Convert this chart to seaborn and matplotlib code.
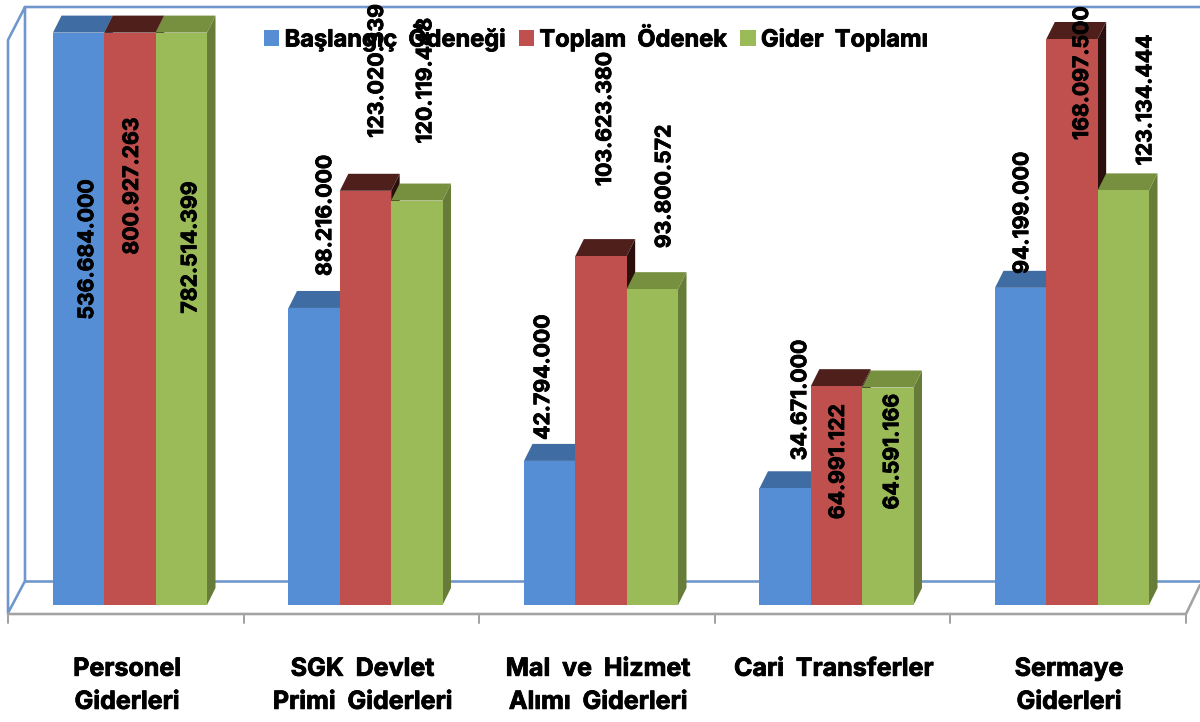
import pandas as pd
import matplotlib
matplotlib.use("Agg")
import matplotlib.pyplot as plt
import matplotlib.patheffects as pe
import seaborn as sns
from matplotlib.lines import Line2D
from matplotlib.patches import Polygon
from matplotlib.transforms import IdentityTransform, ScaledTranslation

# ==================================
# DATA
# ==================================
categories = ["Personel\nGiderleri", "SGK  Devlet\nPrimi  Giderleri", "Mal  ve  Hizmet\nAlımı  Giderleri",
              "Cari  Transferler", "Sermaye\nGiderleri"]
series_names = ["Başlangıç  Ödeneği", "Toplam  Ödenek", "Gider  Toplamı"]

baslangic = [536684000, 88216000, 42794000, 34671000, 94199000]
toplam = [800927263, 123020339, 103623380, 64991122, 168097500]
gider = [782514399, 120119448, 93800572, 64591166, 123134444]

# hand placed labels: px from top centre of the bar to the label's foot
label_dx = [[8.5, 2, 9], [11, 11.5, 8.5], [-6.5, 4, 12], [15, 1.5, 4.5], [1.5, 10, 22]]
label_dy = [[-287, -222, -281], [32, 53, 57], [21, 70, 41], [28, -133, -122], [14, -101, 25]]

# ==================================
# STYLE
# ==================================
W, H = 1200, 722
Y_MAX = 170e6
front_colors = ["#558ED5", "#C0504D", "#9BBB59"]
top_colors = ["#3F6CA2", "#4F1F1C", "#77903F"]
side_colors = ["#3A6090", "#2A0F0D", "#667C38"]
DEPTH_X, DEPTH_Y = 8.5, 17
WALL = "#6F97CB"
FLOOR = "#A3A3A3"
HEAVY = [pe.withStroke(linewidth=0.6, foreground="black")]

sns.set_theme(style="white")
plt.rcParams["font.family"] = ["Inter", "DejaVu Sans"]
plt.rcParams["font.weight"] = "bold"

df = pd.DataFrame({
    "kategori": categories * 3,
    "seri": [s for s in series_names for _ in categories],
    "deger": baslangic + toplam + gider,
})

fig = plt.figure(figsize=(W / 100, H / 100), dpi=100)
ax = fig.add_axes([12.25 / W, (H - 605) / H, 1177.5 / W, 572.4 / H])
ax.patch.set_visible(False)


def frame_line(xs, ys, color, lw=2.0):
    fig.add_artist(Line2D([x / W for x in xs], [1 - y / H for y in ys], color=color, lw=lw * 0.72,
                          transform=fig.transFigure, zorder=-1, solid_capstyle="round"))


# ==================================
# BACK WALL AND FLOOR
# ==================================
frame_line([1200, 25, 8, 8, 25, 25], [7, 7, 40, 613, 581, 7], WALL, 2.6)
frame_line([25, 1200], [581, 581], WALL, 2.6)
frame_line([8, 1186, 1200], [614, 614, 585], FLOOR, 2.6)
for i in range(len(categories) + 1):
    tick_x = 8 + 235.6 * i
    frame_line([tick_x, tick_x], [614, 623], FLOOR, 2.0)

# ==================================
# BARS
# ==================================
sns.barplot(data=df, x="kategori", y="deger", hue="seri", hue_order=series_names,
            palette=front_colors, width=0.654, gap=0, saturation=1, linewidth=0, ax=ax)
ax.set_xlim(-0.5, len(categories) - 0.5)
ax.set_ylim(0, Y_MAX)

# side and top faces, worked out from the bars seaborn drew
for s, container in enumerate(ax.containers):
    for c, bar in enumerate(container):
        bar.set_zorder(4)
        x0 = bar.get_x()
        x1 = x0 + bar.get_width()
        h = min(bar.get_height(), Y_MAX)
        (px0, py0), (px1, py1) = ax.transData.transform([(x0, 0), (x1, h)])
        ax.add_patch(Polygon([(px1, py0), (px1 + DEPTH_X, py0 + DEPTH_Y), (px1 + DEPTH_X, py1 + DEPTH_Y), (px1, py1)],
                             fc=side_colors[s], lw=0, transform=IdentityTransform(), clip_on=False, zorder=2))
        ax.add_patch(Polygon([(px0, py1), (px1, py1), (px1 + DEPTH_X, py1 + DEPTH_Y), (px0 + DEPTH_X, py1 + DEPTH_Y)],
                             fc=top_colors[s], lw=0, transform=IdentityTransform(), clip_on=False, zorder=3))
        ax.annotate(f"{int(bar.get_height()):,}".replace(",", "."),
                    xy=(x0 + bar.get_width() / 2, h), xycoords="data",
                    xytext=(label_dx[c][s] * 0.72, label_dy[c][s] * 0.72), textcoords="offset points",
                    rotation=90, ha="center", va="bottom", fontsize=15.3, fontweight="bold",
                    color="black", annotation_clip=False, zorder=6, path_effects=HEAVY)

# ==================================
# AXES AND LEGEND
# ==================================
sns.despine(ax=ax, left=True, bottom=True)
ax.set_xlabel("")
ax.set_ylabel("")
ax.set_yticks([])
ax.tick_params(axis="x", length=0, pad=38)
ax.set_xticks(range(len(categories)))
ax.set_xticklabels(categories, fontsize=18, fontweight="bold", color="black", linespacing=1.56,
                   path_effects=HEAVY)
shift = ScaledTranslation(-3 / 100, 0, fig.dpi_scale_trans)
for lab in ax.get_xticklabels():
    lab.set_transform(lab.get_transform() + shift)

leg = ax.legend(loc="center", bbox_to_anchor=(596 / W, 1 - 38 / H), bbox_transform=fig.transFigure,
                ncol=3, frameon=False, fontsize=17, handlelength=0.66, handleheight=0.66,
                handletextpad=0.22, columnspacing=0.55, borderpad=0)
leg.set_zorder(5)
for text in leg.get_texts():
    text.set_fontweight("bold")
    text.set_color("black")
    text.set_path_effects(HEAVY)

fig.savefig("out.png", dpi=100)
